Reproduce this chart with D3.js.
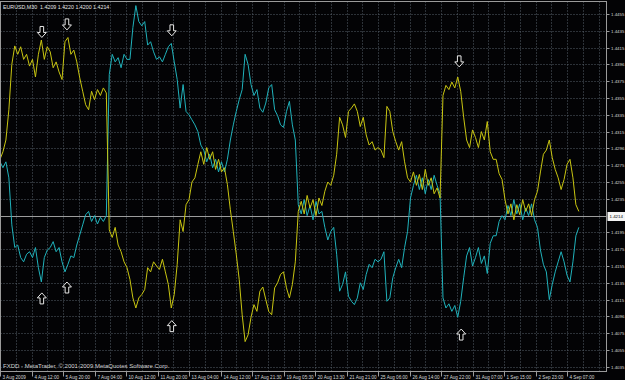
<!DOCTYPE html>
<html><head><meta charset="utf-8">
<script src="https://cdn.jsdelivr.net/npm/d3@7"></script>
<style>html,body{margin:0;padding:0;background:#000;overflow:hidden}svg{display:block}</style>
</head><body>
<script>
// ---- data (EURUSD M30, sampled every 6 bars) ----
const barStep = 6;
const yellowSeries = [
1.4282,1.4291,1.4305,1.4341,1.4395,1.4417,1.4407,1.4416,1.4401,1.4407,1.4393,1.4401,1.4380,1.4407,1.4424,1.4401,1.4416,1.4410,1.4391,1.4398,1.4386,1.4377,1.4422,1.4427,1.4407,1.4412,1.4398,1.4379,1.4363,1.4347,1.4341,1.4363,1.4353,1.4365,1.4358,1.4367,1.4361,
1.4198,1.4189,1.4201,1.4180,1.4172,1.4160,1.4153,1.4139,1.4117,1.4105,1.4117,1.4121,1.4127,1.4153,1.4148,1.4160,1.4155,1.4151,1.4163,1.4148,1.4133,1.4105,1.4121,1.4157,
1.4210,1.4196,1.4228,1.4234,1.4255,1.4260,1.4276,1.4291,1.4276,1.4296,1.4282,1.4291,1.4270,1.4282,1.4267,1.4272,1.4252,1.4222,1.4196,
1.4169,1.4139,1.4097,1.4065,1.4073,1.4094,1.4109,1.4101,1.4125,1.4130,1.4115,1.4101,1.4097,1.4129,1.4135,1.4145,1.4148,1.4129,1.4117,1.4133,1.4160,
1.4220,1.4232,1.4217,1.4239,1.4224,1.4234,1.4215,1.4236,1.4227,1.4244,1.4255,1.4251,1.4263,
1.4288,1.4332,1.4323,1.4308,1.4339,1.4343,1.4348,1.4339,1.4321,1.4332,1.4311,1.4299,1.4303,1.4293,1.4296,1.4293,1.4284,1.4345,1.4339,1.4315,1.4303,1.4293,1.4303,1.4279,1.4260,
1.4255,1.4267,1.4251,1.4264,1.4246,1.4270,1.4251,1.4260,1.4241,1.4248,1.4236,
1.4358,1.4370,1.4365,1.4374,1.4367,1.4380,1.4363,1.4332,1.4305,1.4296,1.4317,1.4308,1.4296,1.4315,1.4305,1.4327,1.4291,1.4282,1.4282,1.4265,1.4258,
1.4234,1.4217,1.4229,1.4210,1.4228,1.4216,1.4234,1.4220,1.4229,1.4215,1.4234,1.4244,
1.4267,1.4288,1.4293,1.4305,1.4284,1.4270,1.4260,1.4246,1.4258,1.4276,1.4282,1.4260,1.4228,1.4220
];
const cyanSeries = [
1.4279,1.4272,1.4279,1.4260,1.4204,1.4177,1.4180,1.4165,1.4160,1.4169,1.4172,1.4165,1.4177,1.4153,1.4136,1.4165,1.4174,1.4177,1.4184,1.4172,1.4177,1.4160,1.4148,1.4157,1.4167,1.4165,1.4180,1.4192,1.4204,1.4216,1.4220,1.4208,1.4215,1.4205,1.4213,1.4208,1.4215,
1.4383,1.4407,1.4398,1.4403,1.4391,1.4407,1.4401,1.4401,1.4439,1.4465,1.4446,1.4441,1.4446,1.4418,1.4422,1.4410,1.4401,1.4404,1.4398,1.4407,1.4416,1.4420,1.4398,1.4377,
1.4343,1.4371,1.4339,1.4335,1.4329,1.4323,1.4315,1.4299,1.4293,1.4279,1.4288,1.4272,1.4282,1.4267,1.4279,1.4267,1.4282,1.4305,1.4323,
1.4339,1.4353,1.4365,1.4407,1.4395,1.4371,1.4358,1.4365,1.4343,1.4338,1.4349,1.4367,1.4371,1.4341,1.4334,1.4323,1.4320,1.4339,1.4351,1.4323,1.4305,
1.4228,1.4217,1.4234,1.4215,1.4227,1.4210,1.4232,1.4217,1.4220,1.4201,1.4186,1.4196,1.4201,
1.4169,1.4125,1.4133,1.4148,1.4119,1.4113,1.4109,1.4117,1.4135,1.4127,1.4145,1.4157,1.4153,1.4163,1.4160,1.4163,1.4172,1.4113,1.4117,1.4141,1.4153,1.4163,1.4153,1.4177,1.4196,
1.4236,1.4251,1.4263,1.4246,1.4260,1.4241,1.4258,1.4246,1.4263,1.4251,1.4241,
1.4117,1.4105,1.4110,1.4101,1.4108,1.4094,1.4113,1.4141,1.4167,1.4177,1.4155,1.4165,1.4177,1.4158,1.4167,1.4146,1.4182,1.4191,1.4191,1.4208,1.4215,
1.4210,1.4227,1.4215,1.4234,1.4217,1.4229,1.4210,1.4224,1.4215,1.4229,1.4210,1.4201,
1.4174,1.4157,1.4148,1.4115,1.4133,1.4148,1.4160,1.4172,1.4160,1.4144,1.4136,1.4160,1.4191,1.4201
];
const timeLabels = ["3 Aug 2009","4 Aug 12:00","5 Aug 20:00","7 Aug 04:00","10 Aug 12:00","11 Aug 20:00","13 Aug 04:00","14 Aug 12:00","17 Aug 21:30","19 Aug 05:30","20 Aug 13:30","21 Aug 21:00","25 Aug 06:00","26 Aug 14:00","27 Aug 22:00","31 Aug 07:00","1 Sep 15:00","2 Sep 23:00","4 Sep 07:00"];
const barsPerLabel = 64;
const priceTicks = [1.4455,1.4435,1.4415,1.4395,1.4375,1.4355,1.4335,1.4315,1.4295,1.4275,1.4255,1.4235,1.4215,1.4195,1.4175,1.4155,1.4135,1.4115,1.4095,1.4075,1.4055,1.4035];
const priceTickLabels = ["1.4455","1.4435","1.4415","1.4396","1.4375","1.4355","1.4335","1.4315","1.4296","1.4275","1.4255","1.4235","1.4215","1.4195","1.4175","1.4155","1.4135","1.4115","1.4096","1.4075","1.4055","1.4035"];
const currentPrice = 1.4214;
const downArrowBars = [85,136,349,933];
const downArrowPrices = [1.4433,1.4442,1.4435,1.4398];
const upArrowBars = [85,136,349,937];
const upArrowPrices = [1.4117,1.4130,1.4084,1.4074];
const headerText = "EURUSD,M30  1.4209 1.4220 1.4200 1.4214";
const footerText = "FXDD - MetaTrader, \u00A9 2001-2009 MetaQuotes Software Corp.";

// ---- layout ----
const W = 625, H = 380;
const plotL = 0.5, plotR = 606.5, plotT = 1.5, plotB = 371.5;
const x = d3.scaleLinear().domain([0, 1232]).range([0, 606.4]);
const y = d3.scaleLinear().domain([1.4055, 1.4455]).range([350, 14]);
const font = "'Liberation Sans', Arial, sans-serif";
const gridCol = "#56616b", textCol = "#d8d8d8";

const svg = d3.select("body").append("svg").attr("width", W).attr("height", H);
svg.append("rect").attr("width", W).attr("height", H).attr("fill", "#030305");

svg.append("clipPath").attr("id", "plot").append("rect")
  .attr("x", plotL).attr("y", plotT).attr("width", plotR - plotL).attr("height", plotB - plotT);

// grid
const g = svg.append("g");
const vGrid = d3.range(1, 39).map(k => k * barsPerLabel / 2);
g.selectAll("line.v").data(vGrid).join("line")
  .attr("x1", d => Math.round(x(d)) + 0.5).attr("x2", d => Math.round(x(d)) + 0.5)
  .attr("y1", plotT).attr("y2", plotB)
  .attr("stroke", gridCol).attr("stroke-width", 1).attr("stroke-dasharray", "1,2")
  .style("display", d => x(d) < plotR - 2 ? null : "none");
g.selectAll("line.h").data(priceTicks).join("line")
  .attr("x1", plotL).attr("x2", plotR)
  .attr("y1", d => Math.round(y(d)) + 0.5).attr("y2", d => Math.round(y(d)) + 0.5)
  .attr("stroke", gridCol).attr("stroke-width", 1).attr("stroke-dasharray", "1,2");

// current price line
svg.append("line").attr("x1", plotL).attr("x2", plotR)
  .attr("y1", Math.round(y(currentPrice)) + 0.5).attr("y2", Math.round(y(currentPrice)) + 0.5)
  .attr("stroke", "#9c9c9c").attr("stroke-width", 1);

// series
const line = d3.line().x((d, i) => x(i * barStep)).y(d => y(d));
const lines = svg.append("g").attr("clip-path", "url(#plot)");
lines.append("path").datum(cyanSeries).attr("d", line)
  .attr("fill", "none").attr("stroke", "#20b2bb").attr("stroke-width", 1);
lines.append("path").datum(yellowSeries).attr("d", line)
  .attr("fill", "none").attr("stroke", "#c9c612").attr("stroke-width", 1);

// arrows
const downPath = "M-1.8,-6V0H-4.5L0,5L4.5,0H1.8V-6Z";
const upPath = "M-1.8,6V0H-4.5L0,-5L4.5,0H1.8V6Z";
svg.append("g").selectAll("path").data(downArrowBars).join("path")
  .attr("d", downPath)
  .attr("transform", (d, i) => `translate(${x(d)},${y(downArrowPrices[i])})`)
  .attr("fill", "#000").attr("stroke", "#e8e8e8").attr("stroke-width", 1);
svg.append("g").selectAll("path").data(upArrowBars).join("path")
  .attr("d", upPath)
  .attr("transform", (d, i) => `translate(${x(d)},${y(upArrowPrices[i])})`)
  .attr("fill", "#000").attr("stroke", "#e8e8e8").attr("stroke-width", 1);

// borders
svg.append("rect").attr("x", plotL).attr("y", plotT).attr("width", plotR - plotL).attr("height", plotB - plotT)
  .attr("fill", "none").attr("stroke", "#9a9a9a").attr("stroke-width", 1);

// right price axis
const ya = svg.append("g");
priceTicks.forEach((p, i) => {
  if (Math.abs(p - currentPrice) < 0.0008) return;
  const yy = Math.round(y(p)) + 0.5;
  ya.append("line").attr("x1", plotR).attr("x2", plotR + 3).attr("y1", yy).attr("y2", yy).attr("stroke", "#9a9a9a");
  ya.append("text").attr("x", plotR + 4.5).attr("y", yy + 1.6).text(priceTickLabels[i])
    .attr("font-family", font).attr("font-size", 4.4).attr("fill", textCol);
});
const cy = Math.round(y(currentPrice)) + 0.5;
ya.append("rect").attr("x", plotR + 1).attr("y", cy - 4.5).attr("width", 17.5).attr("height", 9).attr("fill", "#f4f4f4");
ya.append("text").attr("x", plotR + 3).attr("y", cy + 1.7).text(currentPrice.toFixed(4))
  .attr("font-family", font).attr("font-size", 4.4).attr("fill", "#000");

// bottom time axis
const xa = svg.append("g");
timeLabels.forEach((t, k) => {
  const xx = Math.round(x(k * barsPerLabel)) + 0.5;
  xa.append("line").attr("x1", xx).attr("x2", xx).attr("y1", plotB).attr("y2", plotB + 5).attr("stroke", "#9a9a9a");
  xa.append("text").attr("x", xx + 2).attr("y", 378.5).text(t)
    .attr("font-family", font).attr("font-size", 4.6).attr("fill", textCol);
});

// texts
svg.append("text").attr("x", 3).attr("y", 8.5).text(headerText)
  .attr("font-family", font).attr("font-size", 5.3).attr("fill", "#e6e6e6").style("white-space", "pre");
svg.append("text").attr("x", 3).attr("y", 368).text(footerText)
  .attr("font-family", font).attr("font-size", 6).attr("fill", "#d0d0d0");
</script>
</body></html>
